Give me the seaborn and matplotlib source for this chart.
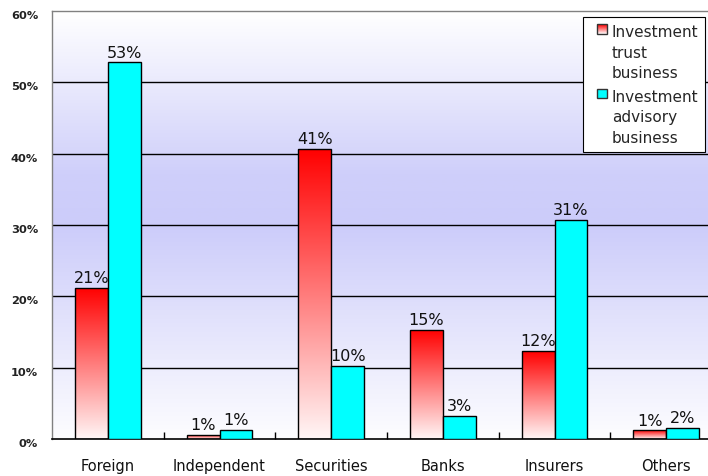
import numpy as np
import pandas as pd
import matplotlib
matplotlib.use("Agg")
import matplotlib.pyplot as plt
from matplotlib.colors import LinearSegmentedColormap
from matplotlib.patches import Rectangle
from matplotlib.legend_handler import HandlerBase
from matplotlib.ticker import FixedLocator
from matplotlib.transforms import ScaledTranslation
import seaborn as sns

# Share of assets by type of manager (%)
categories = ["Foreign", "Independent", "Securities", "Banks", "Insurers", "Others"]
trust_values = [21.2, 0.6, 40.7, 15.3, 12.3, 1.2]
advisory_values = [52.8, 1.3, 10.3, 3.2, 30.7, 1.5]
series_names = ["Investment\ntrust\nbusiness", "Investment\nadvisory\nbusiness"]
y_ticks = [0, 10, 20, 30, 40, 50, 60]

RED = "#ff0000"
CYAN = "#00ffff"

sns.set_theme(style="white")
plt.rcParams["font.family"] = ["DejaVu Sans"]

df = pd.DataFrame({
    "category": categories * 2,
    "value": trust_values + advisory_values,
    "series": [series_names[0]] * len(categories) + [series_names[1]] * len(categories),
})

fig = plt.figure(figsize=(7.08, 4.77), dpi=100)
ax = fig.add_axes([52 / 708, 37 / 477, 670 / 708, 428 / 477])

sns.barplot(data=df, x="category", y="value", hue="series",
            palette=[RED, CYAN], saturation=1, width=0.59, edgecolor="black",
            linewidth=1.0, ax=ax, zorder=3, legend=False)

# Plot-area background: white at top and bottom, lavender in the middle
bg_cmap = LinearSegmentedColormap.from_list(
    "bg", [(0.0, "#ffffff"), (0.38, "#cfcffa"), (0.5, "#ccccfa"),
           (0.72, "#e2e2fc"), (1.0, "#fdfdff")])
grad = np.linspace(0, 1, 256).reshape(-1, 1)
ax.imshow(grad, cmap=bg_cmap, extent=[-0.5, 5.5, 0, 60], aspect="auto",
          origin="upper", zorder=0)

# Red bars: vertical gradient from red at the top to near-white at the bottom
red_cmap = LinearSegmentedColormap.from_list("redgrad", ["#ff0000", "#fff6f6"])
n = len(categories)
for patch in ax.patches[:n]:
    x, y0 = patch.get_x(), patch.get_y()
    w, h = patch.get_width(), patch.get_height()
    im = ax.imshow(grad, cmap=red_cmap, extent=[x, x + w, y0, y0 + h],
                   aspect="auto", origin="upper", zorder=2.5)
    im.set_clip_path(patch)
    patch.set_facecolor("none")

ax.set_xlim(-0.5, 5.5)
ax.set_ylim(0, 60)

# Value labels above bars
for patch, v in zip(ax.patches[:2 * n], trust_values + advisory_values):
    ax.text(patch.get_x() + patch.get_width() / 2, patch.get_height() + 0.4,
            f"{v:.0f}%", ha="center", va="bottom", fontsize=11.5,
            color="#111111", zorder=4)

# Grid lines
for t in y_ticks[1:-1]:
    ax.axhline(t, color="black", linewidth=1.0, zorder=1)

ax.set_yticks(y_ticks)
ax.set_yticklabels([f"{t}%" for t in y_ticks], fontsize=8.2, fontweight="bold",
                   color="#222222")
ax.tick_params(axis="y", length=0, pad=10)
shift = ScaledTranslation(0, -3 / 100, fig.dpi_scale_trans)
for lbl in ax.get_yticklabels():
    lbl.set_transform(lbl.get_transform() + shift)

ax.tick_params(axis="x", which="major", length=0, pad=14, labelsize=10.5,
               labelcolor="#111111")
ax.xaxis.set_minor_locator(FixedLocator([i + 0.5 for i in range(n)]))
ax.tick_params(axis="x", which="minor", direction="in", length=5, width=1,
               color="black", bottom=True)
ax.set_xlabel("")
ax.set_ylabel("")

for side in ["top", "left", "right"]:
    ax.spines[side].set_color("#808080")
    ax.spines[side].set_linewidth(1.0)
ax.spines["bottom"].set_color("black")
ax.spines["bottom"].set_linewidth(1.2)


class GradientHandler(HandlerBase):
    """Small square swatch, right-aligned in the handle box, red-to-white."""
    def create_artists(self, legend, orig_handle, xdescent, ydescent,
                       width, height, fontsize, trans):
        arts = []
        x0 = -xdescent + width - height
        steps = 10
        for i in range(steps):
            c = red_cmap(1 - i / (steps - 1))
            arts.append(Rectangle((x0, -ydescent + i * height / steps),
                                  height, height / steps, facecolor=c,
                                  edgecolor="none", transform=trans))
        arts.append(Rectangle((x0, -ydescent), height, height,
                              facecolor="none", edgecolor="#333333",
                              linewidth=1.0, transform=trans))
        return arts


class SolidHandler(HandlerBase):
    def create_artists(self, legend, orig_handle, xdescent, ydescent,
                       width, height, fontsize, trans):
        x0 = -xdescent + width - height
        return [Rectangle((x0, -ydescent), height, height,
                          facecolor=CYAN, edgecolor="#333333", linewidth=1.0,
                          transform=trans)]


h_trust = Rectangle((0, 0), 1, 1)
h_adv = Rectangle((0, 0), 1, 1, facecolor=CYAN)
leg = ax.legend([h_trust, h_adv], series_names,
                handler_map={h_trust: GradientHandler(), h_adv: SolidHandler()},
                loc="upper left", bbox_to_anchor=(583 / 708, 1 - 18 / 477),
                bbox_transform=fig.transFigure, fontsize=11,
                handlelength=1.1, handleheight=0.62, handletextpad=0.33,
                labelspacing=0.55, borderpad=0.45, frameon=True, fancybox=False,
                edgecolor="black", framealpha=1, borderaxespad=0)
leg.get_frame().set_linewidth(0.8)
leg.set_zorder(5)
for t in leg.get_texts():
    t.set_linespacing(1.47)
# Put each legend swatch next to the first line of its label
for column in leg._legend_handle_box.get_children():
    for row in column.get_children():
        row.align = "top"

fig.savefig("out.png", dpi=100)
